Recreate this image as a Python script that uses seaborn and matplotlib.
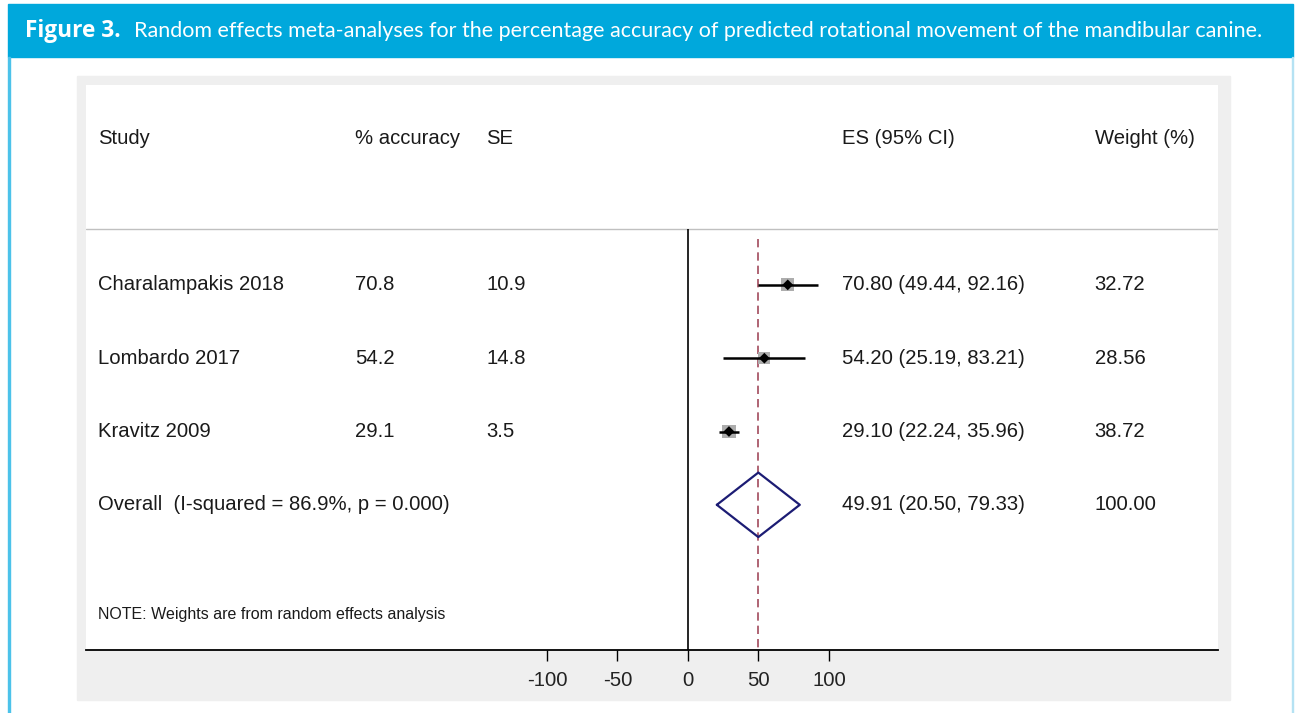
import numpy as np
import pandas as pd
import matplotlib
matplotlib.use("Agg")
import matplotlib.pyplot as plt
from matplotlib.patches import Rectangle
from matplotlib.transforms import blended_transform_factory
import seaborn as sns

# ---- data ----
studies = ["Charalampakis 2018", "Lombardo 2017", "Kravitz 2009"]
pct_accuracy = ["70.8", "54.2", "29.1"]
se_values = ["10.9", "14.8", "3.5"]
es = [70.80, 54.20, 29.10]
ci_low = [49.44, 25.19, 22.24]
ci_high = [92.16, 83.21, 35.96]
weights = [32.72, 28.56, 38.72]

overall_es = 49.91
overall_low = 20.50
overall_high = 79.33
overall_label = "Overall  (I-squared = 86.9%, p = 0.000)"
note = "NOTE: Weights are from random effects analysis"
xticks = [-100, -50, 0, 50, 100]

df = pd.DataFrame({"study": studies, "es": es, "lo": ci_low, "hi": ci_high,
                   "w": weights, "row": np.arange(1, len(studies) + 1)})

# ---- figure / page decoration ----
W, H = 1298, 713
fig = plt.figure(figsize=(W / 100, H / 100), dpi=100)
sns.set_style("white")
plt.rcParams["font.family"] = ["Liberation Sans", "DejaVu Sans"]


def frect(x0, y0, x1, y1, **kw):
    fig.patches.append(Rectangle((x0 / W, 1 - y1 / H), (x1 - x0) / W, (y1 - y0) / H,
                                 transform=fig.transFigure, zorder=-5, **kw))


frect(8, 4, 1293, 57, color="#00a8dc")
frect(8, 57, 10, 713, color="#4cc2ea")
frect(1292, 57, 1293, 713, color="#b5e2f3")
frect(77, 76, 1230, 700, color="#efefef")

fig.text(25 / W, 1 - 31 / H, "Figure 3.", color="white", fontsize=16.3,
         fontweight="bold", family="Open Sans", va="center", ha="left")
fig.text(134 / W, 1 - 31 / H,
         "Random effects meta-analyses for the percentage accuracy of predicted "
         "rotational movement of the mandibular canine.",
         color="white", fontsize=15.5, family="Lato", va="center", ha="left")

# ---- forest plot axes (white area) ----
ax = fig.add_axes([86 / W, 1 - 650 / H, (1218 - 86) / W, (650 - 85) / H])
ax.set_facecolor("white")
for s in ["top", "left", "right"]:
    ax.spines[s].set_visible(False)
ax.spines["bottom"].set_color("black")
ax.spines["bottom"].set_linewidth(1.3)

ax.axhline(0.239, color="#c0c0c0", lw=1)
ax.vlines(0, 0.239, 5.98, color="black", lw=1.2)
ax.vlines(overall_es, 0.38, 5.98, color="#a24a5c", lw=1.2, linestyles=(0, (5, 3)))

# CI lines, weight squares, point estimates
ax.hlines(df["row"], df["lo"], df["hi"], color="black", lw=1.8, zorder=3)
sns.scatterplot(data=df, x="es", y="row", size="w", sizes=(2.6 * min(weights), 2.6 * max(weights)),
                marker="s", color="#adadad", edgecolor="none", legend=False, ax=ax, zorder=2)
sns.scatterplot(data=df, x="es", y="row", marker="D", s=30, color="black",
                edgecolor="none", legend=False, ax=ax, zorder=4)

# overall diamond
oy = len(studies) + 1
dh = 0.44
ax.plot([overall_low, overall_es, overall_high, overall_es, overall_low],
        [oy, oy - dh, oy, oy + dh, oy], color="#1c1c74", lw=1.6, zorder=4)

ax.set_xlim(-427, 376)
ax.set_ylim(5.98, -1.726)
ax.set_yticks([])
ax.set_xticks(xticks)
ax.set_xticklabels([str(t) for t in xticks])
ax.tick_params(axis="x", direction="out", length=8, width=1, color="black",
               labelsize=14.6, labelcolor="#222222", pad=7, bottom=True)
ax.set_xlabel("")
ax.set_ylabel("")

# ---- text columns ----
tr = blended_transform_factory(ax.transAxes, ax.transData)
cols = [0.0106, 0.2376, 0.3534, 0.668, 0.891]
fs = 14.6
tc = "#1a1a1a"
for x, h in zip(cols, ["Study", "% accuracy", "SE", "ES (95% CI)", "Weight (%)"]):
    ax.text(x, -1, h, transform=tr, fontsize=fs, color=tc, va="center")

for i, r in df.iterrows():
    y = r["row"]
    ax.text(cols[0], y, r["study"], transform=tr, fontsize=fs, color=tc, va="center")
    ax.text(cols[1], y, pct_accuracy[i], transform=tr, fontsize=fs, color=tc, va="center")
    ax.text(cols[2], y, se_values[i], transform=tr, fontsize=fs, color=tc, va="center")
    ax.text(cols[3], y, f"{r['es']:.2f} ({r['lo']:.2f}, {r['hi']:.2f})", transform=tr,
            fontsize=fs, color=tc, va="center")
    ax.text(cols[4], y, f"{r['w']:.2f}", transform=tr, fontsize=fs, color=tc, va="center")

ax.text(cols[0], oy, overall_label, transform=tr, fontsize=fs, color=tc, va="center")
ax.text(cols[3], oy, f"{overall_es:.2f} ({overall_low:.2f}, {overall_high:.2f})",
        transform=tr, fontsize=fs, color=tc, va="center")
ax.text(cols[4], oy, f"{sum(weights):.2f}", transform=tr, fontsize=fs, color=tc, va="center")
ax.text(cols[0], 5.5, note, transform=tr, fontsize=11.5, color=tc, va="center")

fig.savefig("out.png", dpi=100)
